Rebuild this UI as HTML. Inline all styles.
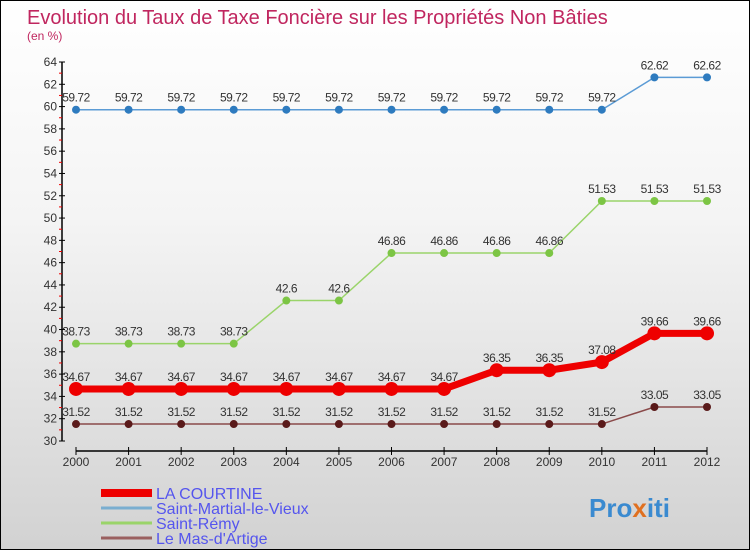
<!DOCTYPE html>
<html><head><meta charset="utf-8"><style>
body{margin:0;}
#c{position:relative;width:750px;height:550px;box-sizing:border-box;border:1px solid #000;background:linear-gradient(#ffffff,#f4f4f4 40%,#d2d2d2);font-family:"Liberation Sans",sans-serif;overflow:hidden}
</style></head><body>
<div id="c">
<svg id="s" width="750" height="550" style="position:absolute;left:0;top:0">
<text x="26" y="23" font-size="20" fill="#c0265f">Evolution du Taux de Taxe Foncière sur les Propriétés Non Bâties</text>
<text x="26" y="39" font-size="12" fill="#c0265f">(en %)</text>
<text x="588" y="516" font-size="26" font-weight="bold" fill="#3a8ad0">Pro<tspan fill="#e07020">x</tspan>iti</text>
</svg>
</div>
<script>
const years=[2000,2001,2002,2003,2004,2005,2006,2007,2008,2009,2010,2011,2012];
const yTicks=[30,32,34,36,38,40,42,44,46,48,50,52,54,56,58,60,62,64];
const courtine=[34.67,34.67,34.67,34.67,34.67,34.67,34.67,34.67,36.35,36.35,37.08,39.66,39.66];
const martial=[59.72,59.72,59.72,59.72,59.72,59.72,59.72,59.72,59.72,59.72,59.72,62.62,62.62];
const remy=[38.73,38.73,38.73,38.73,42.6,42.6,46.86,46.86,46.86,46.86,51.53,51.53,51.53];
const mas=[31.52,31.52,31.52,31.52,31.52,31.52,31.52,31.52,31.52,31.52,31.52,33.05,33.05];
const seriesNames=["LA COURTINE","Saint-Martial-le-Vieux","Saint-Rémy","Le Mas-d'Artige"];
const NS="http://www.w3.org/2000/svg";
const s=document.getElementById('s');
const X=i=>75+i*(706-75)/12;
const Y=v=>440-(v-30)*(440-61)/34;
function el(t,a,p){const e=document.createElementNS(NS,t);for(const k in a)e.setAttribute(k,a[k]);(p||s).appendChild(e);return e;}
let ax=el('line',{x1:61,y1:Y(64),x2:61,y2:Y(30),stroke:'#000','stroke-width':1.5});

let xa=el('line',{x1:X(0),y1:450,x2:X(12),y2:450,stroke:'#000','stroke-width':1.5});

yTicks.forEach((t,k)=>{
  el('line',{x1:58,y1:Y(t),x2:64,y2:Y(t),stroke:'#000'});
  if(k<yTicks.length-1) el('line',{x1:58,y1:Y(t+1),x2:61,y2:Y(t+1),stroke:'#e00'});
  const tx=el('text',{x:56,y:Y(t)+4,'font-size':12,'text-anchor':'end',fill:'#333'});tx.textContent=t;
  
});
years.forEach((y,i)=>{
  el('line',{x1:X(i),y1:446,x2:X(i),y2:454,stroke:'#000'});
  const tx=el('text',{x:X(i),y:465,'font-size':12,'text-anchor':'middle',fill:'#333'});tx.textContent=y;
  
});
function series(data,color,w,r,name,dot){
  const pl=el('polyline',{points:data.map((v,i)=>X(i)+','+Y(v)).join(' '),fill:'none',stroke:color,'stroke-width':w});
  
  data.forEach((v,i)=>{
    const c=el('circle',{cx:X(i),cy:Y(v),r:r,fill:dot});
    
    const t=el('text',{x:X(i),y:Y(v)-8,'font-size':12,'text-anchor':'middle',fill:'#333','letter-spacing':'-0.5'});
    t.textContent=String(v);
    
  });
}
series(martial,'#5b9bd5',1.5,4,'saint-martial','#2e7bbf');
series(remy,'#9ad46a',1.5,4,'saint-remy','#7cc544');
series(mas,'#8a4a4a',1.5,4,'le-mas-dartige','#5a1a1a');
series(courtine,'#ee0000',7,7,'la-courtine','#ee0000');
const colors=['#ee0000','#7aaed0','#9ad46a','#9a6060'];const widths=[8,3,3,3];
seriesNames.forEach((n,i)=>{
  const yy=492+i*15;
  const l=el('line',{x1:100,y1:yy,x2:151,y2:yy,stroke:colors[i],'stroke-width':widths[i]});
  
  const t=el('text',{x:155,y:yy+6,'font-size':16,fill:'#5555ee'});t.textContent=n;
  
});
</script>
</body></html>
